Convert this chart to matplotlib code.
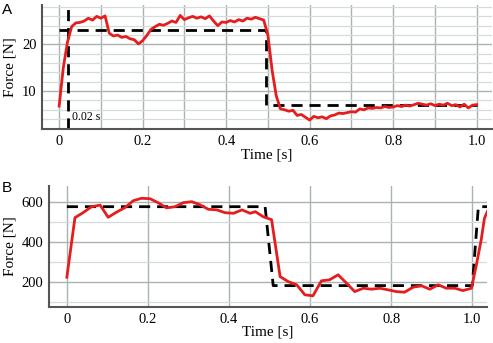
import numpy as np
import matplotlib
matplotlib.use("Agg")
import matplotlib.pyplot as plt
from matplotlib.ticker import MultipleLocator

# panel A: measured force, sampled every 0.01 s
time_a = np.round(np.arange(0, 1.001, 0.01), 2)
force_a = [6.8, 15.0, 20.5, 23.8, 24.6, 24.7, 25.0, 25.6, 25.2, 26.0,
           25.6, 26.1, 22.4, 21.8, 22.0, 21.5, 21.7, 21.2, 21.0, 20.1,
           20.8, 21.9, 23.2, 23.8, 24.3, 24.1, 24.5, 25.0, 24.7, 26.2,
           25.3, 25.7, 26.0, 25.6, 25.9, 25.5, 26.1, 25.0, 24.0, 24.8,
           24.7, 25.1, 24.8, 25.3, 25.0, 25.6, 25.4, 25.8, 25.5, 25.2,
           22.0, 14.5, 9.0, 6.2, 6.0, 5.7, 5.9, 4.8, 5.0, 4.4,
           3.8, 4.6, 4.3, 4.5, 4.1, 4.7, 4.9, 5.3, 5.2, 5.4,
           5.6, 5.5, 6.2, 6.0, 6.4, 6.3, 6.5, 6.4, 6.7, 6.5,
           6.6, 6.9, 6.7, 7.0, 6.8, 7.1, 7.4, 7.2, 7.0, 7.3,
           6.9, 7.2, 7.0, 7.4, 6.9, 7.1, 6.6, 7.2, 6.4, 7.0, 7.1]
target_a_t = [0, 0.495, 0.495, 1.0]
target_a_f = [23, 23, 7, 7]
onset_t = 0.022

# panel B: measured force, sampled ~every 0.02 s
time_b = [0, 0.02, 0.04, 0.061, 0.082, 0.102, 0.122, 0.143, 0.164, 0.184,
          0.205, 0.225, 0.246, 0.267, 0.287, 0.308, 0.328, 0.349, 0.37, 0.39,
          0.411, 0.432, 0.452, 0.465, 0.485, 0.505, 0.526, 0.546, 0.567, 0.587,
          0.607, 0.628, 0.648, 0.669, 0.69, 0.71, 0.731, 0.751, 0.772, 0.792,
          0.813, 0.833, 0.854, 0.875, 0.895, 0.916, 0.936, 0.957, 0.977, 0.998,
          1.01, 1.022, 1.03, 1.037]
force_b = [225, 523, 548, 578, 586, 525, 550, 573, 608, 620,
           618, 598, 572, 578, 598, 603, 588, 565, 562, 548,
           545, 562, 545, 553, 527, 513, 228, 203, 187, 137,
           132, 207, 212, 237, 195, 153, 170, 165, 170, 162,
           153, 150, 175, 182, 165, 187, 170, 170, 158, 170,
           286, 412, 520, 553]
target_b_t = [0, 0.489, 0.509, 1.0, 1.015, 1.04]
target_b_f = [578, 578, 183, 183, 578, 578]

red = "#e41e1e"
serif = "Liberation Serif"

fig = plt.figure(figsize=(4.93, 3.43), dpi=100)
ax_a = fig.add_axes([0.0852, 0.624, 0.913, 0.361])
ax_b = fig.add_axes([0.0994, 0.105, 0.889, 0.353])


def style(ax):
    for s in ["top", "right"]:
        ax.spines[s].set_visible(False)
    for s in ["left", "bottom"]:
        ax.spines[s].set_color("#555555")
        ax.spines[s].set_linewidth(1.5)
    ax.grid(which="major", color="#a9b3b3", linewidth=1.0)
    ax.grid(which="minor", color="#d6dcdc", linewidth=0.9)
    ax.set_axisbelow(True)
    ax.tick_params(which="both", length=0, labelsize=10.5, pad=4)
    for lab in ax.get_xticklabels() + ax.get_yticklabels():
        lab.set_fontfamily(serif)


# panel A
ax_a.plot(target_a_t, target_a_f, color="black", lw=2, dashes=(4, 2.5))
ax_a.axvline(onset_t, color="black", lw=2, dashes=(4, 2.5))
ax_a.plot(time_a, force_a, color=red, lw=2)
ax_a.set_xlim(-0.041, 1.037)
ax_a.set_ylim(1.9, 28.4)
ax_a.xaxis.set_major_locator(MultipleLocator(0.2))
ax_a.xaxis.set_minor_locator(MultipleLocator(0.1))
ax_a.yaxis.set_major_locator(MultipleLocator(10))
ax_a.yaxis.set_minor_locator(MultipleLocator(2))
ax_a.set_xticks([0, 0.2, 0.4, 0.6, 0.8, 1.0], ["0", "0.2", "0.4", "0.6", "0.8", "1.0"])
style(ax_a)
ax_a.grid(which="minor", axis="x", color="#a9b3b3", linewidth=1.0)
ax_a.text(onset_t + 0.008, 4.4, "0.02 s", family=serif, fontsize=8.5, va="center")
ax_a.set_xlabel("Time [s]", family=serif, fontsize=11, labelpad=1)
ax_a.set_ylabel("Force [N]", family=serif, fontsize=11, labelpad=4)

# panel B
ax_b.plot(target_b_t, target_b_f, color="black", lw=2, dashes=(4, 2.5))
ax_b.plot(time_b, force_b, color=red, lw=2)
ax_b.set_xlim(-0.044, 1.037)
ax_b.set_ylim(76, 682)
ax_b.xaxis.set_major_locator(MultipleLocator(0.2))
ax_b.yaxis.set_major_locator(MultipleLocator(200))
ax_b.yaxis.set_minor_locator(MultipleLocator(100))
ax_b.set_xticks([0, 0.2, 0.4, 0.6, 0.8, 1.0], ["0", "0.2", "0.4", "0.6", "0.8", "1.0"])
style(ax_b)
ax_b.set_xlabel("Time [s]", family=serif, fontsize=11, labelpad=0)
ax_b.set_ylabel("Force [N]", family=serif, fontsize=11, labelpad=4)

fig.text(0.004, 0.97, "A", fontsize=11, family="Liberation Sans", va="center")
fig.text(0.004, 0.452, "B", fontsize=11, family="Liberation Sans", va="center")

fig.savefig("out.png", dpi=100)
